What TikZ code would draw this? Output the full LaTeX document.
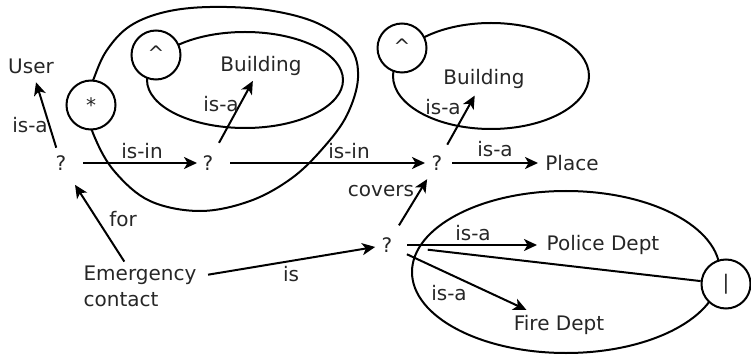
\documentclass[tikz,border=0pt]{standalone}
\usepackage{fontspec}
\setmainfont{DejaVu Sans}
\usetikzlibrary{arrows.meta}
\begin{document}
\begin{tikzpicture}[x=1pt,y=-1pt,
  lbl/.style={font=\fontsize{20}{26}\selectfont, text=black!85, inner sep=0pt},
  qm/.style={lbl},
  opnode/.style={circle, draw, line width=2pt, fill=white, minimum size=49pt,
    inner sep=0pt, font=\fontsize{20}{22}\selectfont, text=black!85},
  ring/.style={line width=2pt},
  arr/.style={line width=2pt, -{Stealth[length=13pt,width=12pt,inset=3.5pt]}},
  link/.style={line width=2pt}]
\useasboundingbox (0,0) rectangle (751,355);

% contexts (enclosing outlines)
\draw[ring] (245,80) ellipse [x radius=98pt, y radius=48pt];
\draw[ring] (491,76) ellipse [x radius=98pt, y radius=53pt];
\draw[ring] (566,272) ellipse [x radius=154pt, y radius=81pt];
\draw[ring] plot[smooth cycle, tension=0.6] coordinates {
  (86,105) (94,78) (107,50) (130,26) (165,12) (210,7) (267,10) (317,23) (350,47)
  (358,78) (347,115) (324,147) (292,178) (250,201) (200,211)
  (150,201) (115,172) (95,138)};

% context operators
\node[opnode] (star) at (91,105) {*};
\node[opnode] (neg1) at (156,55) {\raisebox{3pt}{\^{}}};
\node[opnode] (neg2) at (402,48) {\raisebox{3pt}{\^{}}};
\node[opnode] (bar) at (726,284) {|};

% concepts
\node[lbl] (user) at (31,66) {User};
\node[lbl] (bld1) at (261,66) {Building};
\node[lbl] (bld2) at (484,79) {Building};
\node[lbl] (place) at (572,163) {Place};
\node[lbl] (police) at (603,245) {Police Dept};
\node[lbl] (fire) at (559,325) {Fire Dept};
\node[lbl, align=left] (emerg) at (140,286) {Emergency\\contact};
\node[qm] (q1) at (61,163) {?};
\node[qm] (q2) at (208,163) {?};
\node[qm] (q3) at (437,163) {?};
\node[qm] (q4) at (387,245) {?};

% relations
\draw[arr, shorten <=16pt, shorten >=17pt] (q1.center) -- (user.center);
\draw[arr, shorten <=22pt, shorten >=11pt] (q1.center) -- (q2.center);
\draw[arr, shorten <=23pt, shorten >=17pt] (q2.center) -- (bld1.center);
\draw[arr, shorten <=22pt, shorten >=12pt] (q2.center) -- (q3.center);
\draw[arr, shorten <=21pt, shorten >=19pt] (q3.center) -- (bld2.center);
\draw[arr, shorten <=15pt, shorten >=34pt] (q3.center) -- (place.center);
\draw[arr, shorten <=23pt, shorten >=19pt] (q4.center) -- (q3.center);
\draw[arr, shorten <=29pt, shorten >=26pt] (emerg.center) -- (q1.center);
\draw[arr, shorten <=69pt, shorten >=12pt] (emerg.center) -- (q4.center);
\draw[arr, shorten <=20pt, shorten >=66pt] (q4.center) -- (police.center);
\draw[arr, shorten <=22pt, shorten >=36pt] (q4.center) -- (fire.center);
\draw[link, shorten <=41pt] (q4.center) -- (bar);

% relation labels
\node[lbl] (l1) at (30,125) {is-a};
\node[lbl] (l2) at (142,151) {is-in};
\node[lbl] (l3) at (221,104) {is-a};
\node[lbl] (l4) at (349,151) {is-in};
\node[lbl] (l5) at (443,107) {is-a};
\node[lbl] (l6) at (495,149) {is-a};
\node[lbl] (l7) at (381,191) {covers};
\node[lbl] (l8) at (123,219) {for};
\node[lbl] (l9) at (291,274) {is};
\node[lbl] (l10) at (473,233) {is-a};
\node[lbl] (l11) at (449,293) {is-a};
\end{tikzpicture}
\end{document}
